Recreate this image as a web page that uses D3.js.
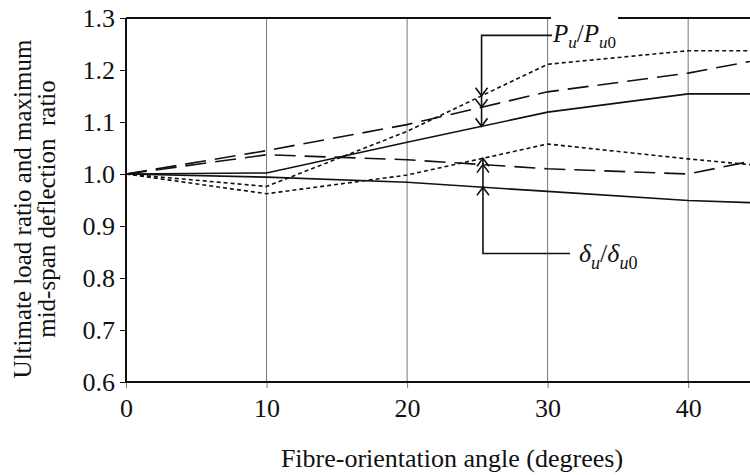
<!DOCTYPE html>
<html>
<head>
<meta charset="utf-8">
<script src="https://cdn.jsdelivr.net/npm/d3@7"></script>
<style>
  body { margin: 0; background: #fff; }
  svg { display: block; font-family: "Liberation Serif", "Times New Roman", serif; }
</style>
</head>
<body>
<svg id="chart" width="750" height="475"></svg>
<script>
// Fibre-orientation angle vs ultimate load / deflection ratios

const angles = [0, 10, 20, 30, 40, 50];

// ultimate load ratio Pu/Pu0
const loadSolid  = [1.0, 1.002, 1.061, 1.119, 1.154, 1.154];
const loadDashed = [1.0, 1.045, 1.095, 1.158, 1.194, 1.245];
const loadDotted = [1.0, 0.976, 1.082, 1.211, 1.237, 1.237];

// mid-span deflection ratio du/du0
const deflSolid  = [1.0, 0.994, 0.984, 0.9665, 0.949, 0.940];
const deflDashed = [1.0, 1.037, 1.0275, 1.010, 1.000, 1.055];
const deflDotted = [1.0, 0.962, 0.998, 1.0577, 1.029, 1.004];

const xTicks = [0, 10, 20, 30, 40];
const yTicks = [0.6, 0.7, 0.8, 0.9, 1.0, 1.1, 1.2, 1.3];

// annotation anchors (angle, ratio)
const loadArrow = { angle: 25.3, top: 1.2666 };
const deflArrow = { angle: 25.4, bottom: 0.847 };

const styles = {
  solid:  null,
  dashed: '21,9',
  dotted: '4,3'
};

const series = [
  { values: loadSolid,  style: 'solid',  group: 'load' },
  { values: loadDashed, style: 'dashed', group: 'load' },
  { values: loadDotted, style: 'dotted', group: 'load' },
  { values: deflSolid,  style: 'solid',  group: 'defl' },
  { values: deflDashed, style: 'dashed', group: 'defl' },
  { values: deflDotted, style: 'dotted', group: 'defl' }
];

const svg = d3.select('#chart');
const mLeft = 126, mRight = 750, mTop = 18, mBottom = 382;
const serif = '"Liberation Serif", serif';

const x = d3.scaleLinear().domain([0, 44.4]).range([mLeft, mRight]);
const y = d3.scaleLinear().domain([0.6, 1.3]).range([mBottom, mTop]);

// interpolate a series at a given angle
function valueAt(vals, a) {
  const i = d3.bisectRight(angles, a) - 1;
  const t = (a - angles[i]) / (angles[i + 1] - angles[i]);
  return vals[i] + t * (vals[i + 1] - vals[i]);
}

// vertical grid lines
svg.append('g')
  .selectAll('line')
  .data(xTicks.filter(d => d > 0))
  .join('line')
    .attr('x1', d => x(d)).attr('x2', d => x(d))
    .attr('y1', mTop).attr('y2', mBottom)
    .attr('stroke', '#777')
    .attr('stroke-width', 1);

// x axis
const xAxis = svg.append('g')
  .attr('transform', `translate(0,${mBottom})`)
  .call(d3.axisBottom(x).tickValues(xTicks).tickFormat(d3.format('d')).tickSize(6).tickPadding(11));
xAxis.select('.domain').remove();
xAxis.selectAll('.tick line').attr('stroke', '#777');
xAxis.selectAll('text').attr('font-size', 26).attr('fill', '#111').attr('font-family', serif);

svg.append('line')
  .attr('x1', mLeft).attr('x2', mRight)
  .attr('y1', mBottom).attr('y2', mBottom)
  .attr('stroke', '#111').attr('stroke-width', 2);

// y axis
const yAxis = svg.append('g')
  .attr('transform', `translate(${mLeft},0)`)
  .call(d3.axisLeft(y).tickValues(yTicks).tickFormat(d3.format('.1f')).tickSize(6).tickPadding(5));
yAxis.select('.domain').remove();
yAxis.selectAll('.tick line').attr('stroke', '#111');
yAxis.selectAll('text').attr('font-size', 26).attr('fill', '#111').attr('font-family', serif);

svg.append('line')
  .attr('x1', mLeft).attr('x2', mLeft)
  .attr('y1', mTop).attr('y2', mBottom)
  .attr('stroke', '#111').attr('stroke-width', 2);

// top border
svg.append('line')
  .attr('x1', mLeft).attr('x2', mRight)
  .attr('y1', mTop).attr('y2', mTop)
  .attr('stroke', '#111').attr('stroke-width', 2);

// data lines
const line = d3.line()
  .x((d, i) => x(angles[i]))
  .y(d => y(d));

svg.append('g')
  .selectAll('path')
  .data(series)
  .join('path')
    .attr('d', d => line(d.values))
    .attr('fill', 'none')
    .attr('stroke', '#111')
    .attr('stroke-width', 1.6)
    .attr('stroke-dasharray', d => styles[d.style]);

// chevron helper
function chevron(g, cx, cy, dir) {
  const h = 8 * dir;
  g.append('path')
    .attr('d', `M${cx - 6},${cy - h}L${cx},${cy}L${cx + 6},${cy - h}`)
    .attr('fill', 'none').attr('stroke', '#111').attr('stroke-width', 1.6);
}

// Pu/Pu0 annotation
const ann = svg.append('g');
const ax1 = x(loadArrow.angle);
const loadTips = series.filter(s => s.group === 'load').map(s => valueAt(s.values, loadArrow.angle));
const labelX1 = 552;
ann.append('path')
  .attr('d', `M${labelX1},${y(loadArrow.top)}H${ax1}V${y(d3.min(loadTips))}`)
  .attr('fill', 'none').attr('stroke', '#111').attr('stroke-width', 1.6);
loadTips.forEach(v => chevron(ann, ax1, y(v), 1));

const pLabel = ann.append('text')
  .attr('x', labelX1 + 1).attr('y', 42)
  .attr('font-size', 25)
  .attr('fill', '#111');
pLabel.append('tspan').attr('font-style', 'italic').text('P');
pLabel.append('tspan').attr('font-style', 'italic').attr('font-size', 17).attr('dy', 6).text('u');
pLabel.append('tspan').attr('dy', -6).text('/');
pLabel.append('tspan').attr('font-style', 'italic').text('P');
pLabel.append('tspan').attr('font-style', 'italic').attr('font-size', 17).attr('dy', 6).text('u');
pLabel.append('tspan').attr('font-size', 17).text('0');

const bb = pLabel.node().getBBox();
ann.insert('rect', 'text')
  .attr('x', bb.x - 1).attr('y', mTop - 3)
  .attr('width', bb.width + 3).attr('height', 6)
  .attr('fill', '#fff');

// du/du0 annotation
const ax2 = x(deflArrow.angle);
const deflTips = series.filter(s => s.group === 'defl').map(s => valueAt(s.values, deflArrow.angle));
const labelX2 = 570;
ann.append('path')
  .attr('d', `M${labelX2},${y(deflArrow.bottom)}H${ax2}V${y(d3.max(deflTips))}`)
  .attr('fill', 'none').attr('stroke', '#111').attr('stroke-width', 1.6);
deflTips.forEach(v => chevron(ann, ax2, y(v), -1));

const dLabel = ann.append('text')
  .attr('x', labelX2 + 9).attr('y', 262)
  .attr('font-size', 26)
  .attr('fill', '#111');
dLabel.append('tspan').attr('font-style', 'italic').text('δ');
dLabel.append('tspan').attr('font-style', 'italic').attr('font-size', 18).attr('dy', 7).text('u');
dLabel.append('tspan').attr('dy', -7).text('/');
dLabel.append('tspan').attr('font-style', 'italic').text('δ');
dLabel.append('tspan').attr('font-style', 'italic').attr('font-size', 18).attr('dy', 7).text('u');
dLabel.append('tspan').attr('font-size', 18).text('0');

// axis titles
svg.append('text')
  .attr('x', 452).attr('y', 467)
  .attr('text-anchor', 'middle')
  .attr('font-size', 26).attr('fill', '#111')
  .text('Fibre-orientation angle (degrees)');

const yTitle = svg.append('text')
  .attr('transform', 'translate(0,209) rotate(-90)')
  .attr('text-anchor', 'middle')
  .attr('font-size', 25).attr('fill', '#111');
yTitle.append('tspan').attr('x', 0).attr('y', 31).text('Ultimate load ratio and maximum');
yTitle.append('tspan').attr('x', 0).attr('y', 55).attr('xml:space', 'preserve').text('mid-span deflection  ratio');
</script>
</body>
</html>
